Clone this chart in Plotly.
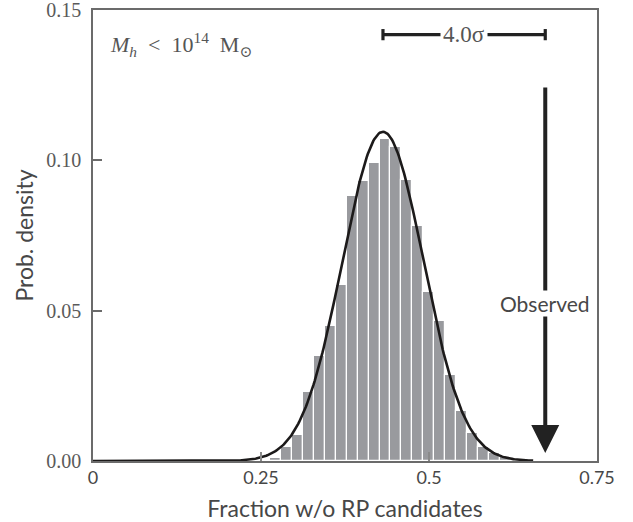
import numpy as np
import plotly.graph_objects as go

# ---- data ----
bin_centers = [0.2716, 0.2879, 0.3042, 0.3205, 0.3368, 0.3531, 0.3694, 0.3856,
               0.4019, 0.4182, 0.4345, 0.4508, 0.4671, 0.4834, 0.4997, 0.5160,
               0.5323, 0.5486, 0.5649, 0.5812, 0.5974, 0.6137]
bin_heights = [0.0010, 0.0048, 0.0087, 0.0228, 0.0348, 0.0450, 0.0587, 0.0880,
               0.0930, 0.0990, 0.1070, 0.1043, 0.0933, 0.0780, 0.0563, 0.0464,
               0.0287, 0.0167, 0.0094, 0.0048, 0.0026, 0.0012]
bin_width = 0.0163

fit_mean = 0.4315
fit_sigma = 0.0604
fit_peak = 0.1095
fit_range = [0.0, 0.655]

observed = 0.6730
sigma_label = "4.0σ"

x_ticks = [0, 0.25, 0.5, 0.75]
x_ticktext = ["0", "0.25", "0.5", "0.75"]
y_ticks = [0.0, 0.05, 0.10, 0.15]
y_ticktext = ["0.00", "0.05", "0.10", "0.15"]

# ---- figure ----
SANS = "Lato, 'Open Sans', sans-serif"
SERIF = "'Liberation Serif', 'DejaVu Serif', serif"
TXT = "#474747"
AX = "#6b6b6b"

xs = np.linspace(fit_range[0], fit_range[1], 400)
ys = fit_peak * np.exp(-0.5 * ((xs - fit_mean) / fit_sigma) ** 2)

fig = go.Figure()
fig.add_trace(go.Bar(x=bin_centers, y=bin_heights, width=bin_width,
                     marker=dict(color="#999a9e", line=dict(color="white", width=1.2)),
                     hoverinfo="skip"))
fig.add_trace(go.Scatter(x=xs, y=ys, mode="lines",
                         line=dict(color="#1c1a1a", width=2.6), hoverinfo="skip"))

# sigma bracket
y_br = 0.1418
fig.add_trace(go.Scatter(x=[fit_mean, observed], y=[y_br, y_br], mode="lines+markers",
                         line=dict(color="#222222", width=3.2),
                         marker=dict(symbol="line-ns", size=8,
                                     line=dict(color="#222222", width=3.2)),
                         hoverinfo="skip"))

annotations = [
    # arrow
    dict(x=observed, y=0.0027, ax=observed, ay=0.1247, xref="x", yref="y",
         axref="x", ayref="y", text="", showarrow=True, arrowhead=2,
         arrowsize=1.4, arrowwidth=4, arrowcolor="#222222"),
    dict(x=observed, y=0.0525, xref="x", yref="y", text="Observed", showarrow=False,
         bgcolor="white", borderpad=0, font=dict(family=SANS, size=21, color=TXT)),
    dict(x=(fit_mean + observed) / 2, y=y_br, xref="x", yref="y", text=sigma_label,
         showarrow=False, bgcolor="white", borderpad=2,
         font=dict(family=SERIF, size=23, color="#555555")),
    dict(x=0.022, y=0.1385, xref="x", yref="y", xanchor="left",
         text="<i>M</i><sub><i>h</i></sub>&nbsp;&nbsp;&lt;&nbsp;&nbsp;10<sup>14</sup>&nbsp;&nbsp;M<sub>⊙</sub>",
         showarrow=False, font=dict(family=SERIF, size=22, color="#555555")),
]

fig.update_layout(
    width=633, height=522,
    margin=dict(l=93, r=36, t=10, b=61),
    paper_bgcolor="white", plot_bgcolor="white",
    showlegend=False, bargap=0,
    annotations=annotations,
    xaxis=dict(range=[0, 0.75], tickvals=x_ticks, ticktext=x_ticktext,
               ticks="inside", ticklen=9, tickwidth=1.5, tickcolor="#8a8a8a",
               showline=True, linecolor=AX, linewidth=1.5, mirror=True,
               showgrid=False, zeroline=False, automargin=False,
               ticklabeloverflow="allow",
               tickfont=dict(family=SANS, size=18, color=TXT),
               title=dict(text="Fraction w/o RP candidates", standoff=14,
                          font=dict(family=SANS, size=23, color=TXT))),
    yaxis=dict(range=[0, 0.15], tickvals=y_ticks, ticktext=y_ticktext,
               ticks="inside", ticklen=9, tickwidth=1.5, tickcolor=AX,
               showline=True, linecolor=AX, linewidth=1.5, mirror=True,
               showgrid=False, zeroline=False, automargin=False,
               ticklabelstandoff=6, ticklabeloverflow="allow",
               tickfont=dict(family=SERIF, size=20, color="#5a5a5a"),
               title=dict(text="Prob. density", standoff=6,
                          font=dict(family=SANS, size=23, color=TXT))),
)

fig.write_html("out.html", config={"displayModeBar": False},
               post_script="document.body.style.margin='0';")
